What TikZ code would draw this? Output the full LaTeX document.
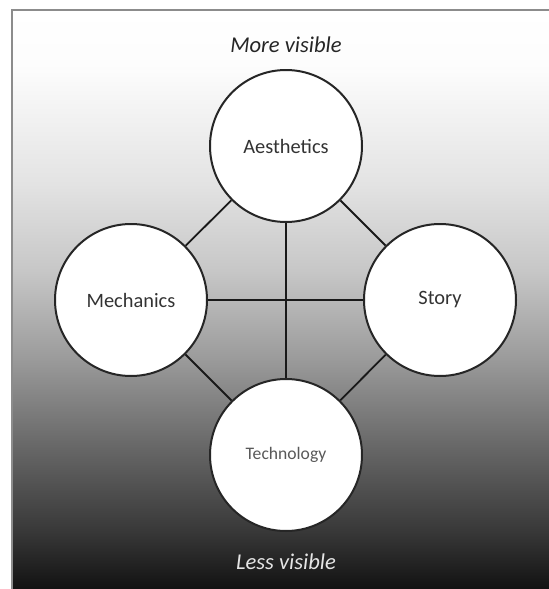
\documentclass[tikz,border=0pt]{standalone}
\usepackage{fontspec}
\setmainfont{Carlito}
\usepackage{tikz}
\usetikzlibrary{positioning}
\pgfdeclareverticalshading{visibility}{100bp}{color(0bp)=(black!93); color(25bp)=(black!93); color(30bp)=(black!78); color(37.5bp)=(black!59); color(45bp)=(black!39); color(52.5bp)=(black!22); color(60bp)=(black!11); color(70bp)=(black!1); color(75bp)=(white); color(100bp)=(white)}

\begin{document}
\begin{tikzpicture}[
    x=0.5pt, y=-0.5pt, on grid,
    pillar/.style={circle, draw=black!85, line width=1pt, fill=white, minimum size=76pt, inner sep=0pt, text=black!80, font=\fontsize{10.2}{12}\selectfont},
    link/.style={line width=0.9pt, black!90},
    visible/.style={font=\itshape\fontsize{11.3}{13}\selectfont}
]
    \fill[white] (0,0) rectangle (549,589);
    \useasboundingbox (0,0) rectangle (549,589);
    \shade[shading=visibility] (12,10) rectangle (549,589);
    \draw[black!45, line width=1pt] (12,589) -- (12,10) -- (549,10);

    \node[pillar] (aesthetics) at (286,146) {Aesthetics};
    \node[pillar, below left=77pt and 77.5pt of aesthetics] (mechanics) {Mechanics};
    \node[pillar, below right=77pt and 77pt of aesthetics] (story) {Story};
    \node[pillar, below=154.5pt of aesthetics, text=black!65, font=\fontsize{8.8}{11}\selectfont] (technology) {Technology};

    \node[visible, above=50.5pt of aesthetics, text=black!85] (more) {More visible};
    \node[visible, below=53.5pt of technology, text=black!10] (less) {Less visible};

    \draw[link] (aesthetics) -- (mechanics);
    \draw[link] (aesthetics) -- (story);
    \draw[link] (mechanics) -- (technology);
    \draw[link] (story) -- (technology);
    \draw[link] (aesthetics) -- (technology);
    \draw[link] (mechanics) -- (story);
\end{tikzpicture}
\end{document}
